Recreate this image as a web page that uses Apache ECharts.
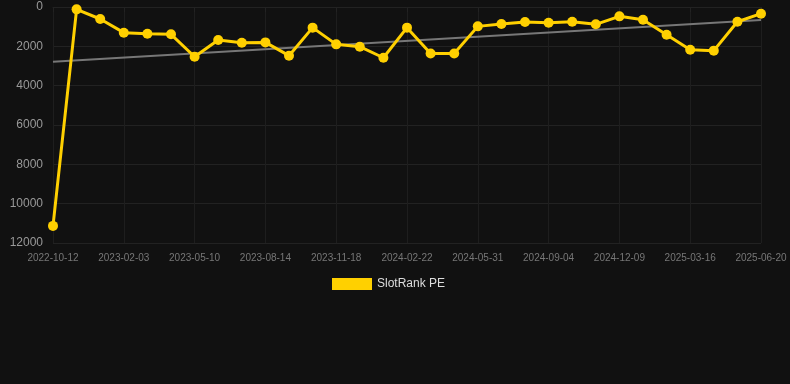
<!DOCTYPE html>
<html>
<head>
<meta charset="utf-8">
<script src="https://cdn.jsdelivr.net/npm/echarts@6/dist/echarts.min.js"></script>
<style>
html,body{margin:0;padding:0;background:#111111;}
#c{width:790px;height:384px;}
</style>
</head>
<body>
<div id="c"></div>
<script>
var categories = [
  '2022-10-12','2022-11-19','2022-12-27','2023-02-03','2023-03-07','2023-04-08',
  '2023-05-10','2023-06-11','2023-07-13','2023-08-14','2023-09-15','2023-10-17',
  '2023-11-18','2023-12-20','2024-01-21','2024-02-22','2024-03-27','2024-04-29',
  '2024-05-31','2024-07-02','2024-08-03','2024-09-04','2024-10-06','2024-11-07',
  '2024-12-09','2025-01-10','2025-02-12','2025-03-16','2025-04-17','2025-05-19',
  '2025-06-20'
];
var slotRankPE = [
  11130, 120, 610, 1305, 1360, 1390,
  2530, 1680, 1815, 1800, 2475, 1050,
  1900, 2020, 2580, 1050, 2360, 2360,
  985, 865, 760, 800, 750, 880,
  475, 645, 1410, 2170, 2220, 750,
  340
];
var trendStart = 2780;
var trendEnd = 660;
var yTicks = [0, 2000, 4000, 6000, 8000, 10000, 12000];

var chart = echarts.init(document.getElementById('c'), null, {renderer: 'canvas'});
chart.setOption({
  backgroundColor: '#111111',
  animation: false,
  grid: {left: 53, right: 29, top: 7, bottom: 141},
  legend: {
    data: ['SlotRank PE'],
    top: 273,
    left: 327,
    itemWidth: 40,
    itemHeight: 12,
    itemGap: 10,
    textStyle: {color: '#dddddd', fontSize: 12, fontFamily: 'Arial, Liberation Sans, sans-serif'},
    icon: 'rect'
  },
  xAxis: {
    type: 'category',
    data: categories,
    boundaryGap: false,
    axisLine: {show: true, lineStyle: {color: '#222222'}},
    axisTick: {show: true, interval: 2, length: 5, lineStyle: {color: '#222222'}},
    axisLabel: {interval: 2, color: '#777777', fontSize: 10, margin: 10, fontFamily: 'Arial, Liberation Sans, sans-serif'},
    splitLine: {show: true, interval: 2, lineStyle: {color: '#1e1e1e', width: 1}}
  },
  yAxis: {
    type: 'value',
    inverse: true,
    min: yTicks[0],
    max: yTicks[yTicks.length - 1],
    interval: yTicks[1] - yTicks[0],
    axisLine: {show: false},
    axisTick: {show: false},
    axisLabel: {color: '#999999', fontSize: 12, margin: 10, fontFamily: 'Arial, Liberation Sans, sans-serif',
      formatter: function (v) { return String(v); }},
    splitLine: {show: true, lineStyle: {color: '#222222', width: 1}}
  },
  series: [
    {
      name: 'SlotRank PE',
      type: 'line',
      data: slotRankPE,
      color: '#ffd000',
      lineStyle: {color: '#ffd000', width: 3},
      itemStyle: {color: '#ffd000'},
      symbol: 'circle',
      symbolSize: 10,
      showSymbol: true,
      z: 3
    },
    {
      name: 'Trend',
      type: 'line',
      data: [[0, trendStart], [categories.length - 1, trendEnd]],
      lineStyle: {color: '#777777', width: 2},
      itemStyle: {color: '#777777'},
      symbol: 'none',
      z: 2
    }
  ]
});
</script>
</body>
</html>
